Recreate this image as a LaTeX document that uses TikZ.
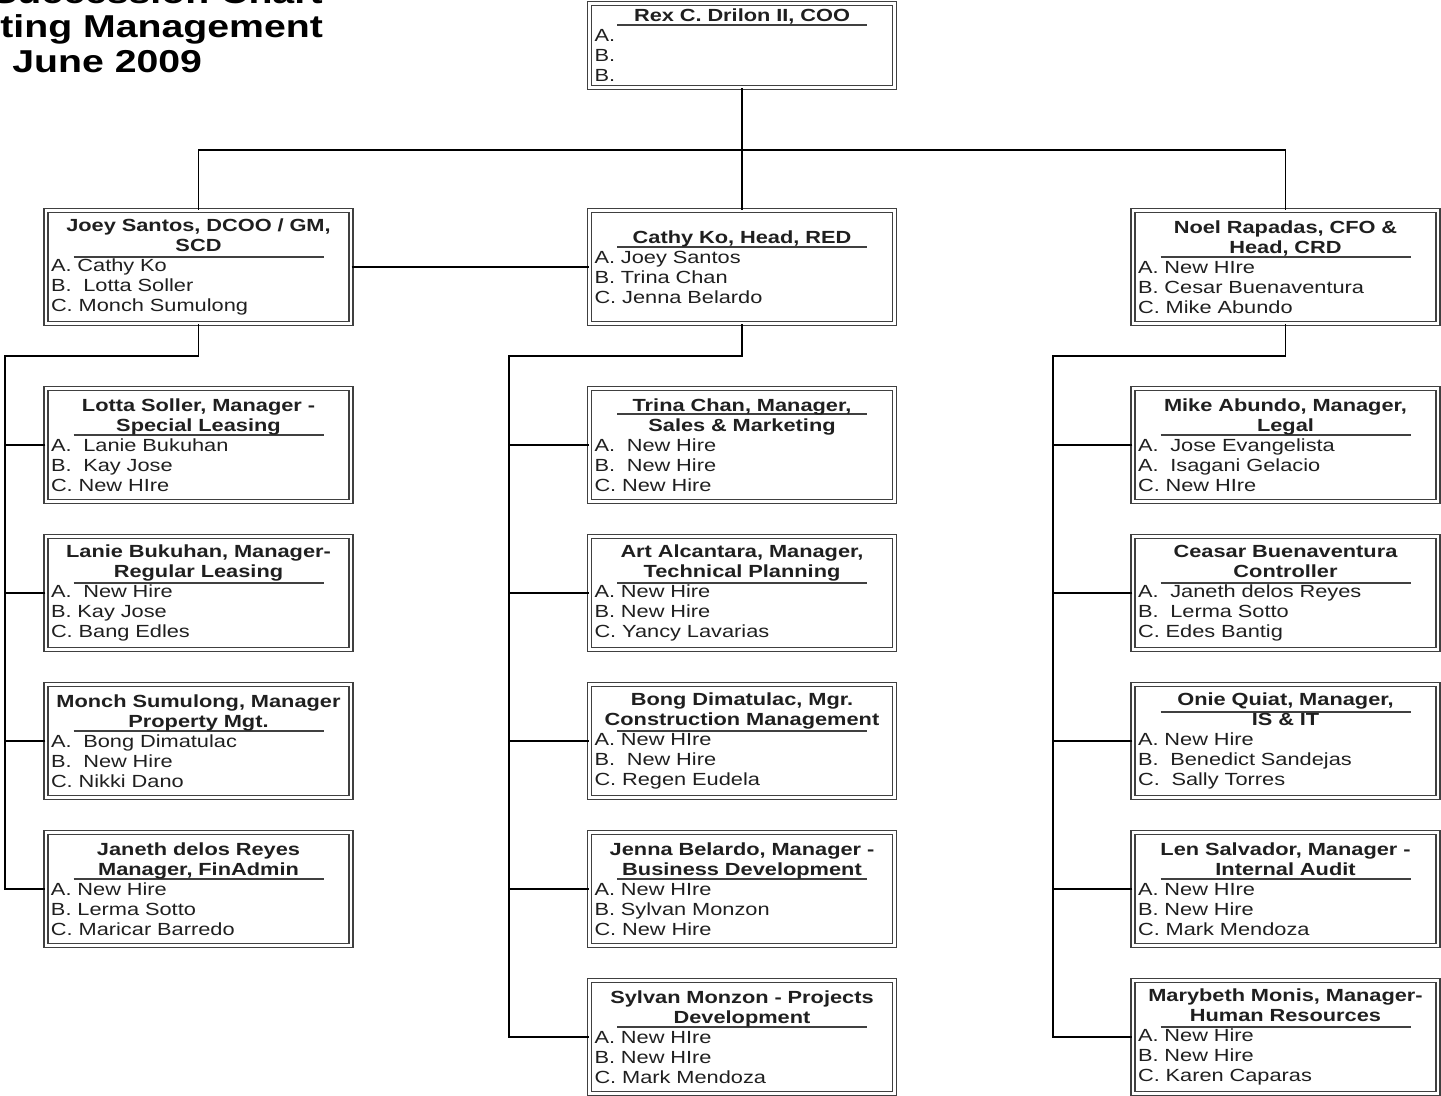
\documentclass[tikz,border=0pt]{standalone}
\usepackage{fontspec}
\setmainfont[FakeStretch=1.24]{Liberation Sans}
\definecolor{ink}{rgb}{0.12, 0.12, 0.12}
\definecolor{frame}{rgb}{0.25, 0.25, 0.25}
\usetikzlibrary{positioning}

\newcommand{\boxhead}[1]{{\centering\bfseries #1\par}}

\begin{document}
\begin{tikzpicture}[
                    node distance = 2.96cm and 10.87cm, on grid,
                    every node/.style = {text=ink},
                    title/.style = {inner sep=0pt, font=\fontsize{18}{21}\selectfont\bfseries, text=black},
                    underline/.style = {path picture = {\draw [frame, line width=0.8pt]
                        ([xshift=0.55cm, yshift=-#1] path picture bounding box.north west) -- ++(5cm,0);}},
                    person/.style = {draw=frame, double, line width=0.8pt, double distance=1.3pt,
                        minimum width=6.1cm, minimum height=2.26cm, text width=5.9cm,
                        inner xsep=2.5pt, inner ysep=0pt, align=left,
                        font=\fontsize{10}{11.4}\selectfont, underline=0.93cm},
                    onehead/.style = {underline=0.73cm},
                    link/.style = {draw, line width=1pt}]
    \useasboundingbox (0,0) rectangle (28.82,-21.9);

    % title, cut by the page edge
    \node (chart) [title, anchor=base east] at (6.46,-0.06) {Succession Chart};
    \node (mgmt)  [title, anchor=base west] at (0,-0.74)    {ting Management};
    \node (date)  [title, anchor=base west] at (0.24,-1.44) {June 2009};

    % top
    \node (rex) [person, minimum height=1.68cm, underline=0.43cm] at (14.84,-0.91)
        {\boxhead{Rex C. Drilon II, COO}A.\\B.\\B.};

    % second level
    \node (joey) [person] at (3.97,-5.34)
        {\boxhead{Joey Santos, DCOO / GM,\\SCD}A. Cathy Ko\\B.\ \ Lotta Soller\\C. Monch Sumulong};
    \node (cathy) [person, onehead, right = of joey]
        {\boxhead{Cathy Ko, Head, RED}A. Joey Santos\\B. Trina Chan\\C. Jenna Belardo};
    \node (noel) [person, right = of cathy]
        {\boxhead{Noel Rapadas, CFO \&\\Head, CRD}A. New HIre\\B. Cesar Buenaventura\\C. Mike Abundo};

    % SCD
    \node (lotta) [person, below = 3.56cm of joey]
        {\boxhead{Lotta Soller, Manager -\\Special Leasing}A.\ \ Lanie Bukuhan\\B.\ \ Kay Jose\\C. New HIre};
    \node (lanie) [person, below = of lotta]
        {\boxhead{Lanie Bukuhan, Manager-\\Regular Leasing}A.\ \ New Hire\\B. Kay Jose\\C. Bang Edles};
    \node (monch) [person, below = of lanie]
        {\boxhead{Monch Sumulong, Manager\\Property Mgt.}A.\ \ Bong Dimatulac\\B.\ \ New Hire\\C. Nikki Dano};
    \node (janeth) [person, below = of monch]
        {\boxhead{Janeth delos Reyes\\Manager, FinAdmin}A. New Hire\\B. Lerma Sotto\\C. Maricar Barredo};

    % RED
    \node (trina) [person, underline=0.51cm, below = 3.56cm of cathy]
        {\boxhead{Trina Chan, Manager,\\Sales \& Marketing}A.\ \ New Hire\\B.\ \ New Hire\\C. New Hire};
    \node (art) [person, below = of trina]
        {\boxhead{Art Alcantara, Manager,\\Technical Planning}A. New Hire\\B. New Hire\\C. Yancy Lavarias};
    \node (bong) [person, below = of art]
        {\boxhead{Bong Dimatulac, Mgr.\\Construction Management}A. New HIre\\B.\ \ New Hire\\C. Regen Eudela};
    \node (jenna) [person, below = of bong]
        {\boxhead{Jenna Belardo, Manager -\\Business Development}A. New HIre\\B. Sylvan Monzon\\C. New Hire};
    \node (sylvan) [person, below = of jenna]
        {\boxhead{Sylvan Monzon - Projects\\Development}A. New HIre\\B. New HIre\\C. Mark Mendoza};

    % CRD
    \node (mike) [person, below = 3.56cm of noel]
        {\boxhead{Mike Abundo, Manager,\\Legal}A.\ \ Jose Evangelista\\A.\ \ Isagani Gelacio\\C. New HIre};
    \node (ceasar) [person, below = of mike]
        {\boxhead{Ceasar Buenaventura\\Controller}A.\ \ Janeth delos Reyes\\B.\ \ Lerma Sotto\\C. Edes Bantig};
    \node (onie) [person, underline=0.55cm, below = of ceasar]
        {\boxhead{Onie Quiat, Manager,\\IS \& IT}A. New Hire\\B.\ \ Benedict Sandejas\\C.\ \ Sally Torres};
    \node (len) [person, below = of onie]
        {\boxhead{Len Salvador, Manager -\\Internal Audit}A. New HIre\\B. New Hire\\C. Mark Mendoza};
    \node (marybeth) [person, below = of len]
        {\boxhead{Marybeth Monis, Manager-\\Human Resources}A. New Hire\\B. New Hire\\C. Karen Caparas};

    % connectors
    \coordinate (bus) at (14.84,-3);
    \coordinate (scd) at (0.1,-7.12);
    \coordinate (red) at (10.18,-7.12);
    \coordinate (crd) at (21.06,-7.12);

    \draw [link] (rex) -- (cathy);
    \draw [link] (joey.north) |- (bus) -| (noel.north);
    \draw [link] (joey) -- (cathy);

    \draw [link] (joey.south) |- (scd) |- (janeth.west);
    \foreach \n in {lotta, lanie, monch}
        \draw [link] (\n.west) -- (\n.west -| scd);

    \draw [link] (cathy.south) |- (red) |- (sylvan.west);
    \foreach \n in {trina, art, bong, jenna}
        \draw [link] (\n.west) -- (\n.west -| red);

    \draw [link] (noel.south) |- (crd) |- (marybeth.west);
    \foreach \n in {mike, ceasar, onie, len}
        \draw [link] (\n.west) -- (\n.west -| crd);
\end{tikzpicture}
\end{document}
